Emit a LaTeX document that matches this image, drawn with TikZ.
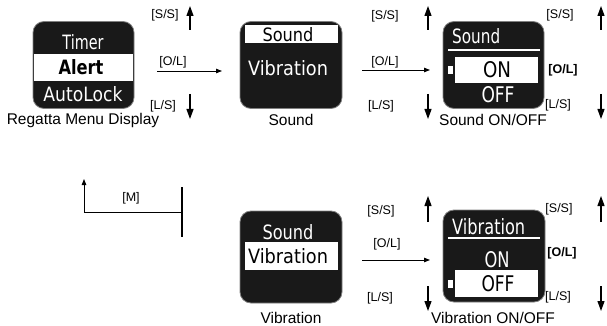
\documentclass[tikz,border=0pt]{standalone}
\usepackage{fontspec}
\usepackage{graphicx}
\setmainfont{Liberation Sans}
\newfontfamily\lcdfont{DejaVu Sans}
\usetikzlibrary{arrows.meta}
\newcommand{\lcd}[3]{\resizebox{#1pt}{#2pt}{\lcdfont #3}}
\begin{document}
\begin{tikzpicture}[x=1pt,y=-1pt,
  screen/.style={fill=black!90, draw=black!50, line width=0.8pt, rounded corners=11pt, inner sep=0pt},
  lbl/.style={font=\fontsize{15.5}{17}\selectfont, inner sep=0pt},
  key/.style={font=\fontsize{12.5}{14}\selectfont, inner sep=0pt},
  keyb/.style={font=\fontsize{12.5}{14}\selectfont\bfseries, inner sep=0pt},
  varrow/.style={line width=1.2pt, -{Triangle[length=10pt,width=7pt]}},
  harrow/.style={line width=0.9pt, -{Triangle[length=6pt,width=4.5pt]}},
  plain/.style={line width=1.1pt},
  lcdw/.style={text=white, inner sep=0pt},
  lcdb/.style={text=black, inner sep=0pt},
  uline/.style={draw=white, line width=2pt}]
\useasboundingbox (0,0) rectangle (607,326);

% ---------- screens ----------
\node[screen, minimum width=101pt, minimum height=87pt] (s1) at (83.5,65) {};
\node[screen, minimum width=102pt, minimum height=87pt] (s2) at (291,65) {};
\node[screen, minimum width=101pt, minimum height=87pt] (s3) at (493.5,65) {};
\node[screen, minimum width=102pt, minimum height=92pt] (s4) at (291,257) {};
\node[screen, minimum width=102pt, minimum height=92pt] (s5) at (494,256) {};

% screen 1
\fill[white] (34,54) rectangle (133,81);
\node[lcdw] (t1a) at (83,42) {\lcd{41}{15}{Timer}};
\node[lcdb] (t1b) at (81,67) {\lcd{45}{15}{\bfseries Alert}};
\node[lcdw] (t1c) at (83,94) {\lcd{79}{15}{AutoLock}};

% screen 2
\fill[white] (245,25) rectangle (338,43);
\node[lcdb] (t2a) at (288,34.5) {\lcd{51}{14}{Sound}};
\node[lcdw] (t2b) at (288,68) {\lcd{80}{15}{Vibration}};

% screen 3
\node[lcdw, anchor=west] (t3a) at (452,36) {\lcd{48}{15}{Sound}};
\draw[uline] (448,50) -- (540,50);
\fill[white] (455,57) rectangle (538,83);
\fill[white] (448,66) rectangle (453,74);
\node[lcdb] (t3b) at (497,70) {\lcd{28}{16}{ON}};
\node[lcdw] (t3c) at (498,95) {\lcd{33}{16}{OFF}};

% screen 4
\fill[white] (245,242) rectangle (338,270);
\node[lcdw] (t4a) at (288,232) {\lcd{51}{15}{Sound}};
\node[lcdb] (t4b) at (288,256) {\lcd{80}{15}{Vibration}};

% screen 5
\node[lcdw, anchor=west] (t5a) at (452,227) {\lcd{73}{16}{Vibration}};
\draw[uline] (448,238) -- (540,238);
\node[lcdw] (t5b) at (497,260) {\lcd{25}{16}{ON}};
\fill[white] (455,270) rectangle (538,297);
\fill[white] (448,280) rectangle (453,288);
\node[lcdb] (t5c) at (498,284) {\lcd{33}{16}{OFF}};

% ---------- captions ----------
\node[lbl] (c1) at (83,120) {Regatta Menu Display};
\node[lbl] (c2) at (291,120) {Sound};
\node[lbl] (c3) at (493,120) {Sound ON/OFF};
\node[lbl] (c4) at (291,318) {Vibration};
\node[lbl] (c5) at (493,318) {Vibration ON/OFF};

% ---------- key labels ----------
\node[key] (ss1) at (165,15) {[S/S]};
\node[key] (ol1) at (173,62) {[O/L]};
\node[key] (ls1) at (163,106) {[L/S]};
\node[key] (ss2) at (385,16) {[S/S]};
\node[key] (ol2) at (385,62) {[O/L]};
\node[key] (ls2) at (381,106) {[L/S]};
\node[key] (ss3) at (560,15) {[S/S]};
\node[keyb] (ol3) at (563,70) {[O/L]};
\node[key] (ls3) at (558,105) {[L/S]};
\node[key] (ss4) at (381,211) {[S/S]};
\node[key] (ol4) at (387,244) {[O/L]};
\node[key] (ls4) at (380,298) {[L/S]};
\node[key] (ss5) at (559,209) {[S/S]};
\node[keyb] (ol5) at (562,253) {[O/L]};
\node[key] (ls5) at (558,297) {[L/S]};
\node[key] (mk) at (131,198) {[M]};

% ---------- arrow end points ----------
\coordinate (u1a) at (190,30); \coordinate (u1b) at (190,6);
\coordinate (d1a) at (190,94); \coordinate (d1b) at (190,119);
\coordinate (h1a) at (157,71); \coordinate (h1b) at (222,71);
\coordinate (u2a) at (428,30); \coordinate (u2b) at (428,6);
\coordinate (d2a) at (428,94); \coordinate (d2b) at (428,119);
\coordinate (h2a) at (362,70); \coordinate (h2b) at (430,70);
\coordinate (u3a) at (601,30); \coordinate (u3b) at (601,6);
\coordinate (d3a) at (601,94); \coordinate (d3b) at (601,119);
\coordinate (u4a) at (428,222); \coordinate (u4b) at (428,196);
\coordinate (d4a) at (428,286); \coordinate (d4b) at (428,311);
\coordinate (h4a) at (362,260); \coordinate (h4b) at (430,260);
\coordinate (u5a) at (601,222); \coordinate (u5b) at (601,196);
\coordinate (d5a) at (601,286); \coordinate (d5b) at (601,311);
\coordinate (m1) at (182,212); \coordinate (m2) at (84,212); \coordinate (m3) at (84,179);
\coordinate (v1) at (182,187); \coordinate (v2) at (182,237);

\draw[varrow] (u1a) -- (u1b);
\draw[varrow] (d1a) -- (d1b);
\draw[harrow] (h1a) -- (h1b);
\draw[varrow] (u2a) -- (u2b);
\draw[varrow] (d2a) -- (d2b);
\draw[harrow] (h2a) -- (h2b);
\draw[varrow] (u3a) -- (u3b);
\draw[varrow] (d3a) -- (d3b);
\draw[varrow] (u4a) -- (u4b);
\draw[varrow] (d4a) -- (d4b);
\draw[harrow] (h4a) -- (h4b);
\draw[varrow] (u5a) -- (u5b);
\draw[varrow] (d5a) -- (d5b);
\draw[harrow] (m1) -- (m2) -- (m3);
\draw[plain] (v1) -- (v2);
\end{tikzpicture}
\end{document}
